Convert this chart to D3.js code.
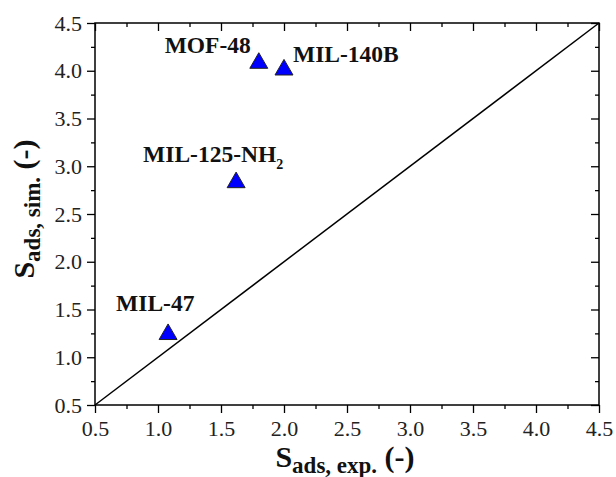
<!DOCTYPE html>
<html>
<head>
<meta charset="utf-8">
<script src="https://cdn.jsdelivr.net/npm/d3@7"></script>
<style>
  body { margin: 0; background: #fff; }
  svg, svg text { font-family: "Liberation Serif", "Times New Roman", serif; }
  svg { display: block; }
</style>
</head>
<body>
<div id="chart"></div>
<script>
'use strict';

// materials and their selectivities
const names = ['MOF-48', 'MIL-140B', 'MIL-125-NH', 'MIL-47'];
const subscripts = ['', '', '2', ''];
const sExp = [1.80, 2.00, 1.62, 1.08];
const sSim = [4.08, 4.01, 2.83, 1.24];

const ticks = [0.5, 1.0, 1.5, 2.0, 2.5, 3.0, 3.5, 4.0, 4.5];
const minorTicks = [0.75, 1.25, 1.75, 2.25, 2.75, 3.25, 3.75, 4.25];

// where each label sits relative to its marker (px)
const labelOffsets = [
    { dx: -8, dy: -10, anchor: 'end' },
    { dx: 9, dy: -8, anchor: 'start' },
    { dx: -93, dy: -20, anchor: 'start' },
    { dx: -52, dy: -23, anchor: 'start' }
];

function buildParityPlot() {
    const width = 616;
    const height = 477;

    const left = 95;
    const right = 599;
    const top = 23;
    const bottom = 405;

    const svg = d3.select('#chart')
        .append('svg')
            .attr('width', width)
            .attr('height', height);

    const x = d3.scaleLinear().domain([0.5, 4.5]).range([left, right]);
    const y = d3.scaleLinear().domain([0.5, 4.5]).range([bottom, top]);

    const styleAxis = (g) => {
        g.attr('font-family', null).attr('font-size', 22);
        g.select('.domain').remove();
        g.selectAll('line').attr('stroke', '#000').attr('stroke-width', 1.3);
        g.selectAll('text').attr('fill', '#222');
    };

    // major ticks with labels (outside on bottom/left)
    svg.append('g')
        .attr('transform', `translate(0,${bottom})`)
        .call(d3.axisBottom(x).tickValues(ticks).tickSize(8).tickPadding(7).tickFormat(d3.format('.1f')))
        .call(styleAxis);

    svg.append('g')
        .attr('transform', `translate(${left},0)`)
        .call(d3.axisLeft(y).tickValues(ticks).tickSize(8).tickPadding(5).tickFormat(d3.format('.1f')))
        .call(styleAxis);

    // minor ticks outside
    svg.append('g')
        .attr('transform', `translate(0,${bottom})`)
        .call(d3.axisBottom(x).tickValues(minorTicks).tickSize(4).tickFormat(''))
        .call(styleAxis);

    svg.append('g')
        .attr('transform', `translate(${left},0)`)
        .call(d3.axisLeft(y).tickValues(minorTicks).tickSize(4).tickFormat(''))
        .call(styleAxis);

    // top/right ticks pointing inward
    svg.append('g')
        .attr('transform', `translate(0,${top})`)
        .call(d3.axisTop(x).tickValues(ticks).tickSize(-8).tickFormat(''))
        .call(styleAxis);
    svg.append('g')
        .attr('transform', `translate(0,${top})`)
        .call(d3.axisTop(x).tickValues(minorTicks).tickSize(-4).tickFormat(''))
        .call(styleAxis);
    svg.append('g')
        .attr('transform', `translate(${right},0)`)
        .call(d3.axisRight(y).tickValues(ticks).tickSize(-8).tickFormat(''))
        .call(styleAxis);
    svg.append('g')
        .attr('transform', `translate(${right},0)`)
        .call(d3.axisRight(y).tickValues(minorTicks).tickSize(-4).tickFormat(''))
        .call(styleAxis);

    // frame
    svg.append('rect')
        .attr('x', left)
        .attr('y', top)
        .attr('width', right - left)
        .attr('height', bottom - top)
        .attr('fill', 'none')
        .attr('stroke', '#000')
        .attr('stroke-width', 1.5);

    // parity line
    svg.append('path')
        .datum([0.5, 4.5])
        .attr('fill', 'none')
        .attr('stroke', '#000')
        .attr('stroke-width', 1.5)
        .attr('d', d3.line().x(d => x(d)).y(d => y(d)));

    const points = names.map((name, i) => ({
        name,
        sub: subscripts[i],
        exp: sExp[i],
        sim: sSim[i],
        off: labelOffsets[i]
    }));

    svg.append('g')
        .selectAll('path')
        .data(points)
        .enter()
        .append('path')
            .attr('transform', d => `translate(${x(d.exp)},${y(d.sim)})`)
            .attr('d', d3.symbol(d3.symbolTriangle, 140))
            .attr('fill', '#0000ff')
            .attr('stroke', '#222')
            .attr('stroke-width', 1);

    const labels = svg.append('g')
        .selectAll('text')
        .data(points)
        .enter()
        .append('text')
            .attr('x', d => x(d.exp) + d.off.dx)
            .attr('y', d => y(d.sim) + d.off.dy)
            .attr('text-anchor', d => d.off.anchor)
            .attr('font-size', 23.5)
            .attr('font-weight', 'bold')
            .attr('fill', '#111');

    labels.append('tspan').text(d => d.name);
    labels.append('tspan')
        .attr('font-size', 14)
        .attr('dy', 7)
        .text(d => d.sub);

    // axis titles
    const xTitle = svg.append('text')
        .attr('x', (left + right) / 2 - 2)
        .attr('y', 467)
        .attr('text-anchor', 'middle')
        .attr('font-weight', 'bold')
        .attr('fill', '#111');
    xTitle.append('tspan').attr('font-size', 30).text('S');
    xTitle.append('tspan').attr('font-size', 23).attr('dy', 6).text('ads, exp.');
    xTitle.append('tspan').attr('font-size', 30).attr('dy', -6).text('\u00a0(-)');

    const yTitle = svg.append('text')
        .attr('transform', `translate(34,209) rotate(-90)`)
        .attr('text-anchor', 'middle')
        .attr('font-weight', 'bold')
        .attr('fill', '#111');
    yTitle.append('tspan').attr('font-size', 30).text('S');
    yTitle.append('tspan').attr('font-size', 23).attr('dy', 6).text('ads, sim.');
    yTitle.append('tspan').attr('font-size', 30).attr('dy', -6).text('\u00a0(-)');
}

window.addEventListener('DOMContentLoaded', () => {
    buildParityPlot();
});
</script>
</body>
</html>
